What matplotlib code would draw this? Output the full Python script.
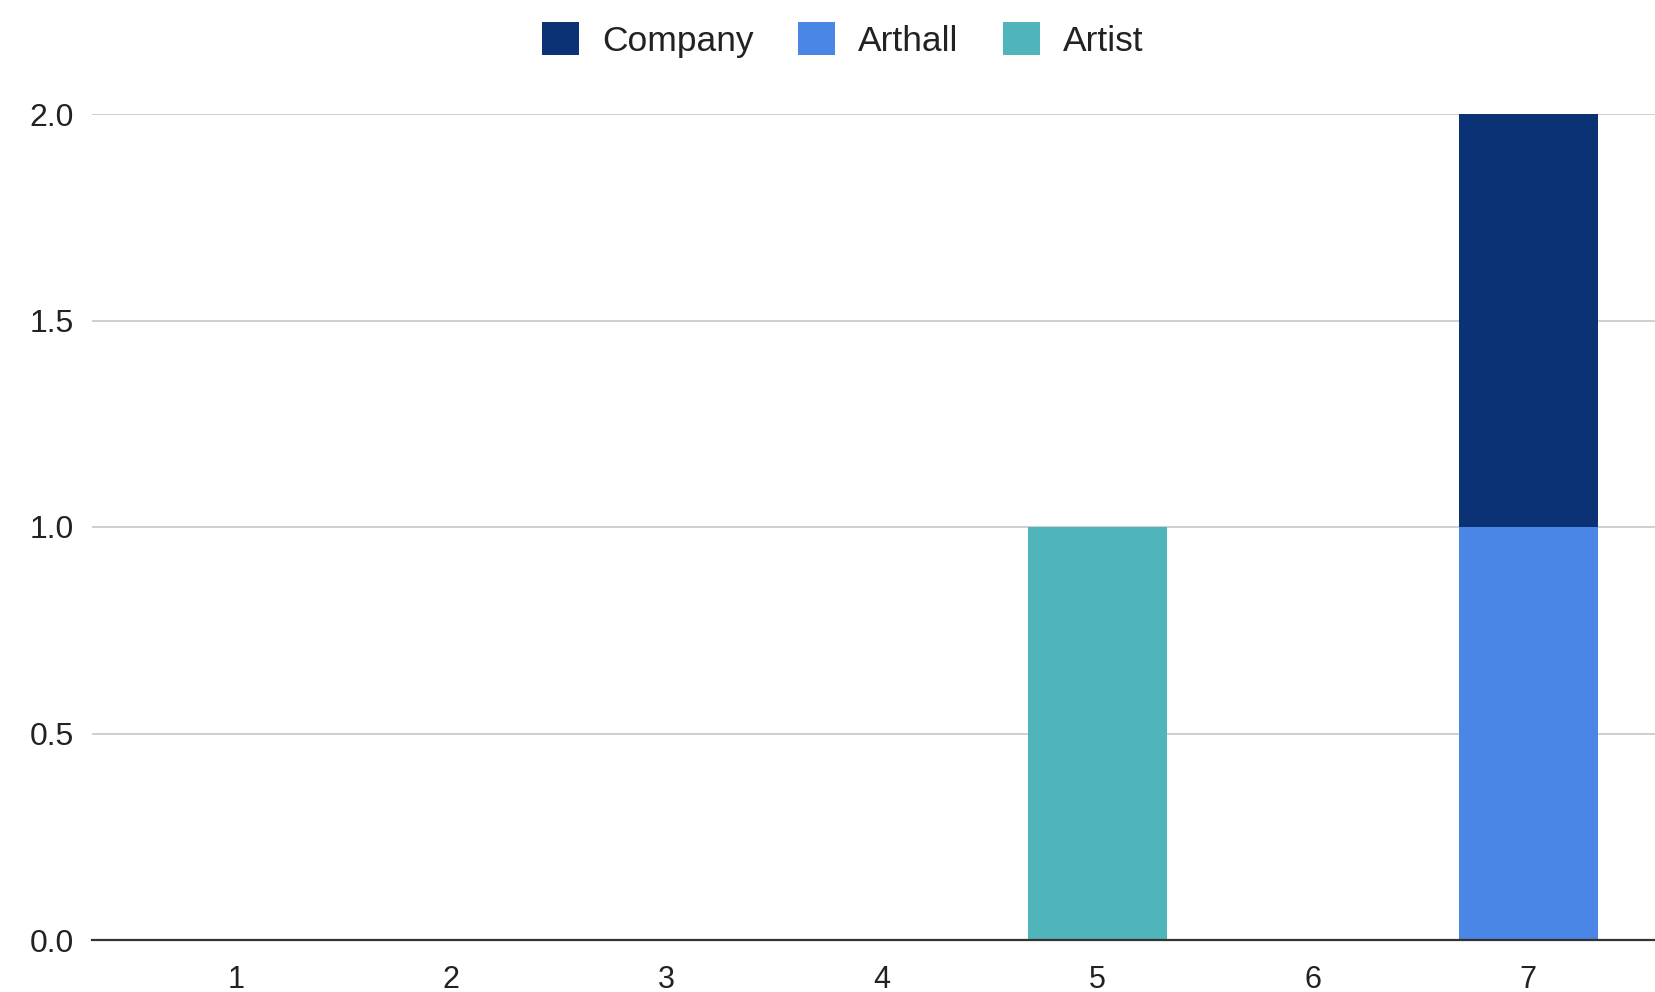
import matplotlib.pyplot as plt
import numpy as np

# Counts per category, one list per series
categories = ["1", "2", "3", "4", "5", "6", "7"]
arthall = [0, 0, 0, 0, 0, 0, 1]
company = [0, 0, 0, 0, 0, 0, 1]
artist = [0, 0, 0, 0, 1, 0, 0]

COLORS = {"Company": "#0b3275", "Arthall": "#4a86e6", "Artist": "#4fb5ba"}

plt.rcParams['font.family'] = ['Liberation Sans', 'DejaVu Sans']

fig = plt.figure(figsize=(16.56, 9.92), dpi=100)
ax = fig.add_axes([92/1656, 52/992, 1 - 92/1656, (940-114)/992])

x = np.arange(1, len(categories) + 1)
w = 0.645
b_arthall = ax.bar(x, arthall, w, color=COLORS["Arthall"], zorder=3, label="Arthall")
b_company = ax.bar(x, company, w, bottom=arthall, color=COLORS["Company"], zorder=3, label="Company")
b_artist = ax.bar(x, artist, w, bottom=np.add(arthall, company), color=COLORS["Artist"],
                  zorder=3, label="Artist")

ax.set_xlim(0.332, 7.594)
ax.set_ylim(0, 2.0)
ax.set_xticks(x)
ax.set_xticklabels(categories)
ax.set_yticks([0, 0.5, 1.0, 1.5, 2.0])
ax.set_yticklabels(["0.0", "0.5", "1.0", "1.5", "2.0"])
ax.tick_params(length=0, labelsize=22, colors="#222222")
ax.tick_params(axis="x", pad=18)
ax.tick_params(axis="y", pad=13, labelsize=23)
ax.grid(axis="y", color="#cccccc", linewidth=1.3, zorder=0)
for s in ["top", "right", "left"]:
    ax.spines[s].set_visible(False)
ax.spines["bottom"].set_color("#333333")
ax.spines["bottom"].set_linewidth(1.6)
ax.spines["bottom"].set_zorder(4)

handles = [b_company, b_arthall, b_artist]
fig.legend(handles, ["Company", "Arthall", "Artist"], loc="center",
           bbox_to_anchor=(843/1656, 1 - 40/992), ncol=3, frameon=False,
           fontsize=25.5, handlelength=1.05, handleheight=1.05, handletextpad=0.65,
           columnspacing=1.25, labelcolor="#222222")

plt.savefig("out.png")
